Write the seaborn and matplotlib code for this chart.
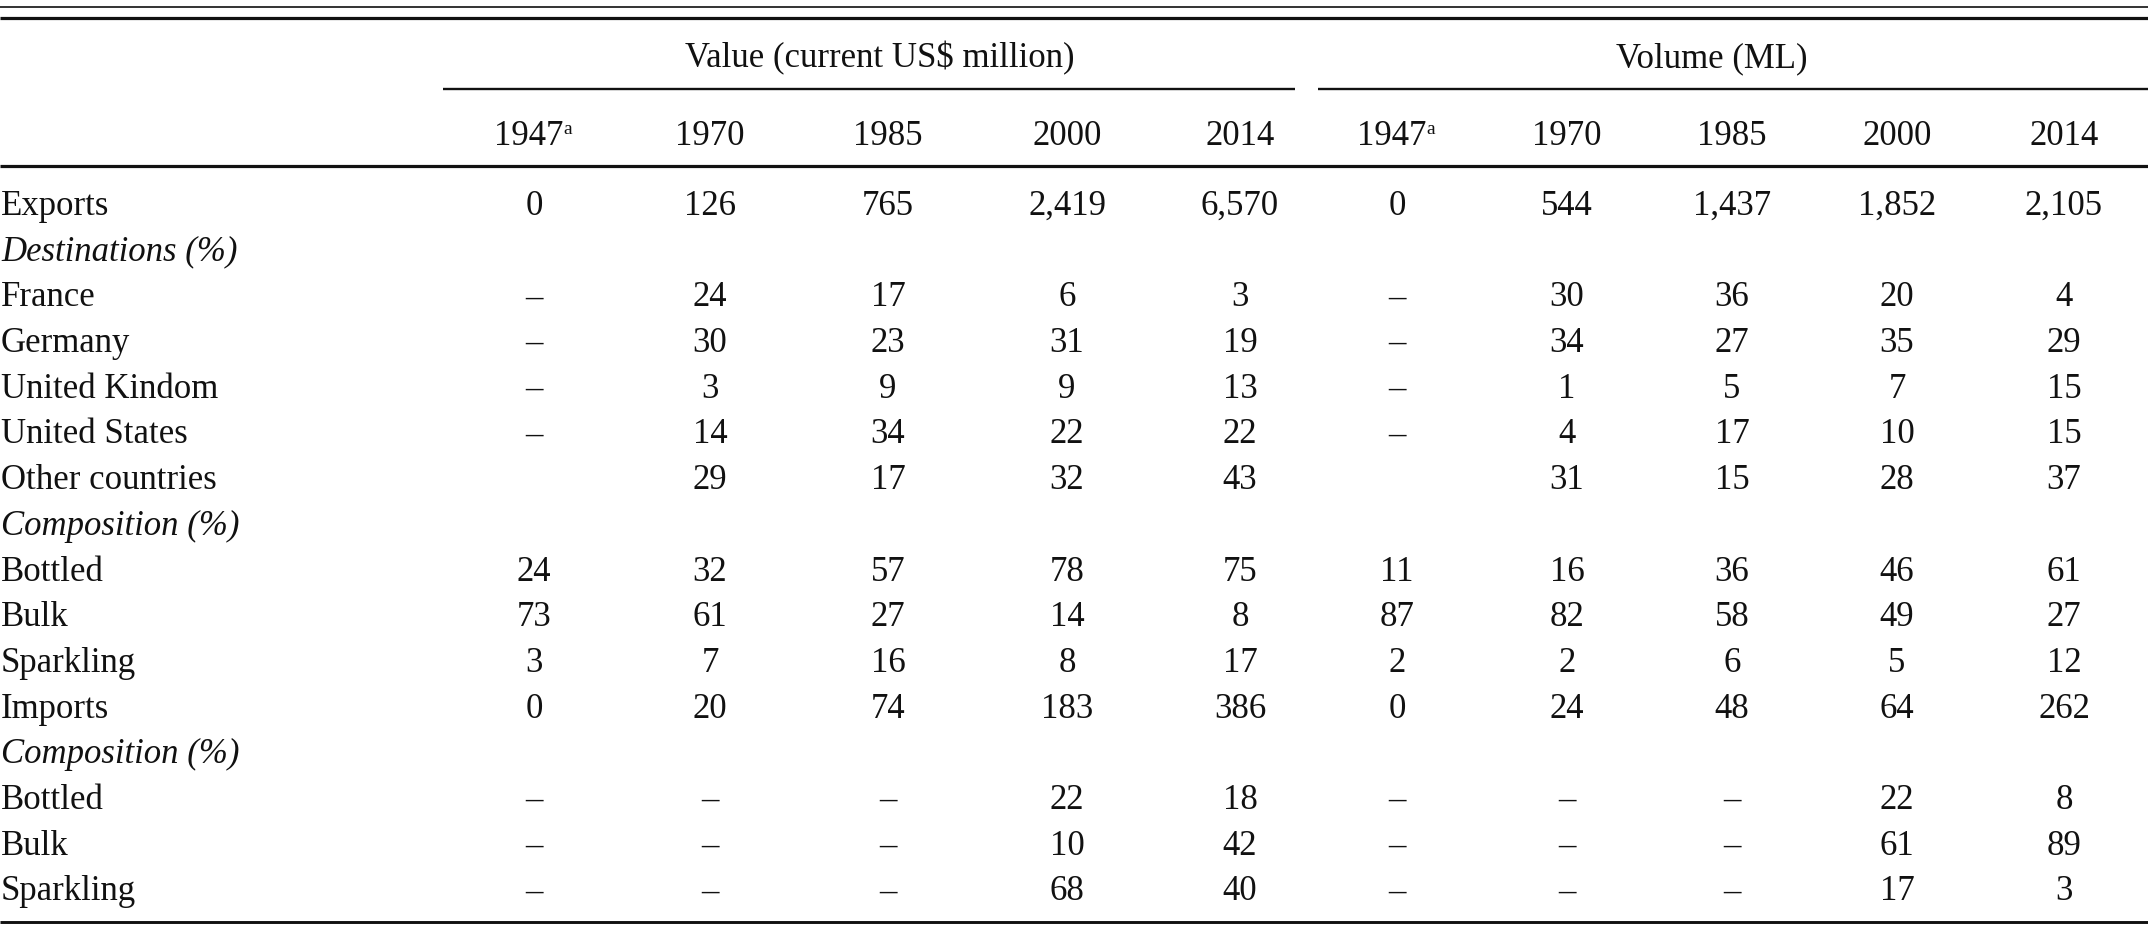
import numpy as np
import pandas as pd
import matplotlib.pyplot as plt
import seaborn as sns

# ---- table contents ----
row_labels = ['Exports', 'Destinations (%)', 'France', 'Germany', 'United Kindom',
              'United States', 'Other countries', 'Composition (%)', 'Bottled', 'Bulk',
              'Sparkling', 'Imports', 'Composition (%)', 'Bottled', 'Bulk', 'Sparkling']
italic_rows = [1, 7, 12]
years = ['1947', '1970', '1985', '2000', '2014']
footnote_year = '1947'
groups = ['Value (current US$ million)', 'Volume (ML)']

D = '–'  # not available
value_1947 = [0, '', D, D, D, D, '', '', 24, 73, 3, 0, '', D, D, D]
value_1970 = [126, '', 24, 30, 3, 14, 29, '', 32, 61, 7, 20, '', D, D, D]
value_1985 = [765, '', 17, 23, 9, 34, 17, '', 57, 27, 16, 74, '', D, D, D]
value_2000 = [2419, '', 6, 31, 9, 22, 32, '', 78, 14, 8, 183, '', 22, 10, 68]
value_2014 = [6570, '', 3, 19, 13, 22, 43, '', 75, 8, 17, 386, '', 18, 42, 40]
volume_1947 = [0, '', D, D, D, D, '', '', 11, 87, 2, 0, '', D, D, D]
volume_1970 = [544, '', 30, 34, 1, 4, 31, '', 16, 82, 2, 24, '', D, D, D]
volume_1985 = [1437, '', 36, 27, 5, 17, 15, '', 36, 58, 6, 48, '', D, D, D]
volume_2000 = [1852, '', 20, 35, 7, 10, 28, '', 46, 49, 5, 64, '', 22, 61, 17]
volume_2014 = [2105, '', 4, 29, 15, 15, 37, '', 61, 27, 12, 262, '', 8, 89, 3]

columns = [value_1947, value_1970, value_1985, value_2000, value_2014,
           volume_1947, volume_1970, volume_1985, volume_2000, volume_2014]

sns.set_theme(style='white')
plt.rcParams['font.family'] = ['Liberation Serif', 'DejaVu Serif']

# ---- layout (pixel units) ----
W, H = 2148, 928
col_x = [534, 710, 888, 1067, 1240, 1397, 1567, 1732, 1897, 2064]
group_x = [880, 1712]
group_span = [(443, 1295), (1318, 2148)]
first_base = 215
row_step = 45.7
fs = 25
ink = '#111111'


def fmt(v):
    if isinstance(v, str):
        return v
    return f'{v:,}'


fig = plt.figure(figsize=(W / 100, H / 100), dpi=100)
ax = fig.add_axes([0, 0, 1, 1])
ax.set_xlim(0, W)
ax.set_ylim(H, 0)
ax.axis('off')

# rules
ax.hlines(8, 0, W, color=ink, lw=1.2)
ax.hlines(19, 0, W, color=ink, lw=2.3)
for x0, x1 in group_span:
    ax.hlines(90, x0, x1, color=ink, lw=1.7)
ax.hlines(167, 0, W, color=ink, lw=2.3)
ax.hlines(923, 0, W, color=ink, lw=2.1)

# group headers
for gx, g in zip(group_x, groups):
    ax.text(gx, 67, g, ha='center', va='baseline', fontsize=fs, color=ink)

# year headers
for i, x in enumerate(col_x):
    y = years[i % len(years)]
    if y == footnote_year:
        ax.text(x - 5, 145, y, ha='center', va='baseline', fontsize=fs, color=ink)
        ax.text(x + 29, 134, 'a', ha='left', va='baseline', fontsize=14, color=ink)
    else:
        ax.text(x, 145, y, ha='center', va='baseline', fontsize=fs, color=ink)

# body
for r, label in enumerate(row_labels):
    base = first_base + r * row_step
    style = 'italic' if r in italic_rows else 'normal'
    ax.text(1, base, label, ha='left', va='baseline', fontsize=fs,
            style=style, color=ink)
    for x, col in zip(col_x, columns):
        ax.text(x, base, fmt(col[r]), ha='center', va='baseline',
                fontsize=fs, color=ink)

fig.savefig('out.png', dpi=100, facecolor='white')
